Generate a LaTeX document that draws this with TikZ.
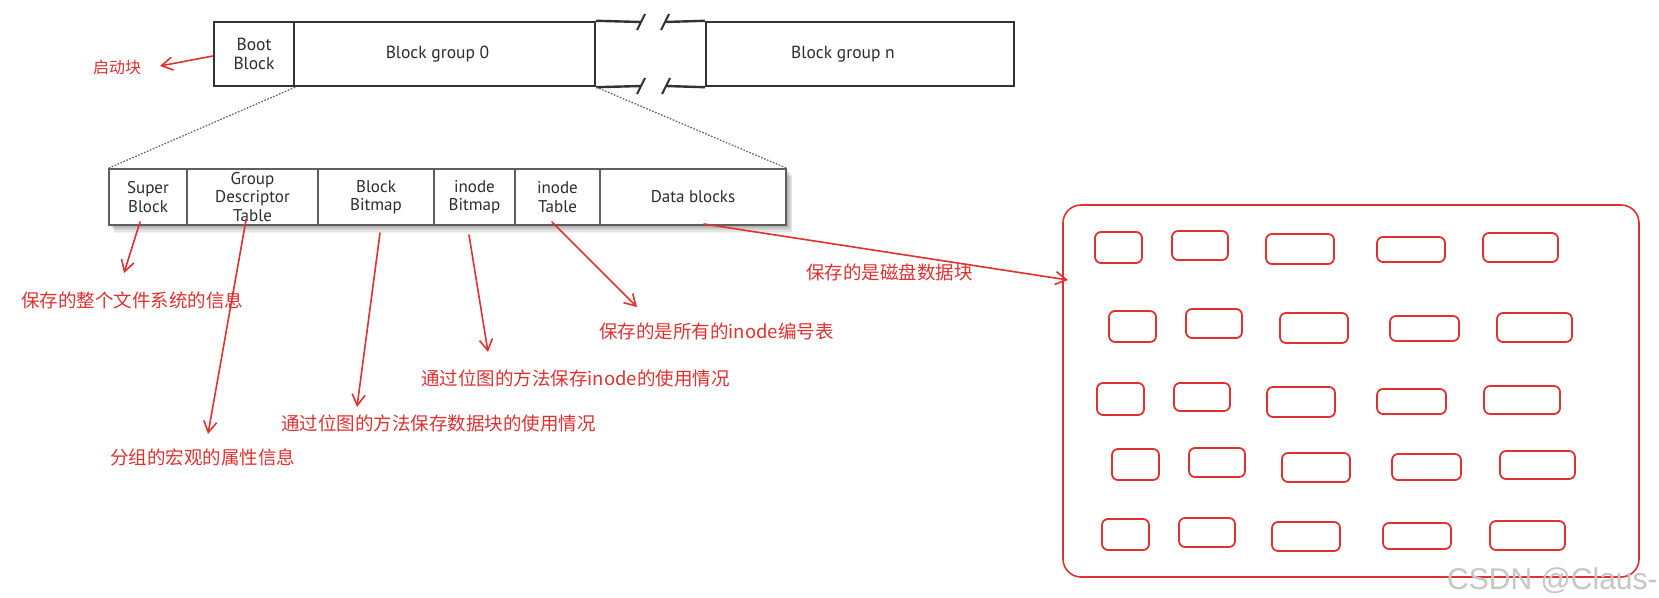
\documentclass[tikz,border=0pt]{standalone}
\usepackage{fontspec}
\setmainfont{PT Sans}
\newfontfamily\cjk{Noto Sans CJK SC}
\newfontfamily\wmfont{Liberation Sans}
\usetikzlibrary{arrows.meta,calc}
\definecolor{hred}{RGB}{224,49,49}
\definecolor{boxgray}{RGB}{50,50,50}
\definecolor{txtgray}{RGB}{45,45,45}
\definecolor{lowgray}{RGB}{95,95,95}
\begin{document}
\begin{tikzpicture}[x=1pt,y=-1pt,
 topcell/.style={draw=boxgray, line width=2.4pt, minimum height=64pt, inner sep=0pt,
   font=\fontsize{17.5}{19}\selectfont, text=txtgray, align=center},
 lowcell/.style={draw=lowgray, line width=1.5pt, minimum height=56pt, inner sep=0pt,
   font=\fontsize{17}{18.5}\selectfont, text=txtgray, align=center, fill=white},
 note/.style={text=hred, font=\cjk\fontsize{18.5}{20}\selectfont, inner sep=0pt, anchor=west},
 redarrow/.style={draw=hred, line width=1.6pt, line cap=round,
   -{Straight Barb[length=11pt,width=13pt,line width=1.6pt]}},
 cell/.style={draw=hred, line width=1.8pt, rounded corners=6pt},
 dotline/.style={draw=lowgray, line width=1.2pt, dash pattern=on 1.6pt off 1.6pt},
]
\useasboundingbox (0,0) rectangle (1659,597);
\fill[white] (0,0) rectangle (1659,597);

% ---- top bar ----
\node[topcell, minimum width=80pt] (boot) at (254,54) {Boot\\Block};
\node[topcell, minimum width=301pt] (bg0) at (444.5,54) {\hspace*{-14pt}Block group 0};
\node[topcell, minimum width=308pt] (bgn) at (860,54) {\hspace*{-34pt}Block group n};
% gap cell with break marks
\draw[boxgray, line width=2.4pt] (bg0.north east) -- (641,22) (665,22) -- (bgn.north west);
\draw[boxgray, line width=2.4pt] (bg0.south east) -- (641,86) (666,86) -- (bgn.south west);
\draw[boxgray, line width=2pt] (637,30) -- (645,14) (661,30) -- (669,14)
                                (637,94) -- (645,78) (662,94) -- (670,78);

% ---- lower bar: shadow ----
\foreach \s in {1,...,6} {
  \fill[black, opacity=0.055] ($(109,169)+(\s*0.9,\s*1.1)$) rectangle ($(786,225)+(\s*0.9+1,\s*1.1+1)$);
}
\node[lowcell, minimum width=78pt]  (sb)  at (148,197)   {Super\\Block};
\node[lowcell, minimum width=131pt] (gdt) at (252.5,197) {Group\\Descriptor\\Table};
\node[lowcell, minimum width=116pt] (bb)  at (376,197)   {Block\\Bitmap};
\node[lowcell, minimum width=81pt]  (ib)  at (474.5,197) {inode\\Bitmap};
\node[lowcell, minimum width=85pt]  (it)  at (557.5,197) {inode\\Table};
\node[lowcell, minimum width=186pt] (db)  at (693,197)   {Data blocks};

% dotted zoom lines
\draw[dotline] (boot.south east) -- (sb.north west);
\draw[dotline] (bg0.south east) -- (db.north east);

% ---- notes ----
\node[note, font=\cjk\fontsize{16}{18}\selectfont] (t0) at (93,67) {启动块};
\node[note] (t1) at (21,300) {保存的整个文件系统的信息};
\node[note] (t2) at (110,457) {分组的宏观的属性信息};
\node[note] (t3) at (281,423) {通过位图的方法保存数据块的使用情况};
\node[note] (t4) at (421,378) {通过位图的方法保存inode的使用情况};
\node[note] (t5) at (599,331) {保存的是所有的inode编号表};
\node[note] (t6) at (806,272) {保存的是磁盘数据块};

% ---- big data-block area ----
\node[draw=hred, line width=1.6pt, rounded corners=18pt, minimum width=576pt,
      minimum height=372pt, inner sep=0pt] (big) at (1351,391) {};
\foreach \a/\b/\c/\d in {
 1095/232/1142/263, 1172/231/1228/260, 1266/234/1334/264, 1377/237/1445/262, 1483/233/1558/262,
 1109/311/1156/342, 1186/309/1242/338, 1280/313/1348/343, 1390/316/1459/341, 1497/313/1572/342,
 1097/383/1144/415, 1174/383/1230/411, 1267/387/1335/417, 1377/389/1446/414, 1484/386/1560/414,
 1112/449/1159/480, 1189/448/1245/477, 1282/453/1350/482, 1392/454/1461/480, 1500/451/1575/479,
 1102/519/1149/550, 1179/518/1235/547, 1272/522/1340/551, 1383/523/1451/549, 1490/521/1565/550}
 { \draw[cell] (\a,\b) rectangle (\c,\d); }

% ---- arrows ----
\coordinate (a0s) at (213,56);  \coordinate (a0e) at (160,66);
\coordinate (a1s) at (140,222); \coordinate (a1e) at (124,273);
\coordinate (a2s) at (246,220); \coordinate (a2e) at (208,434);
\coordinate (a3s) at (380,233); \coordinate (a3e) at (357,407);
\coordinate (a4s) at (469,235); \coordinate (a4e) at (488,352);
\coordinate (a5s) at (552,222); \coordinate (a5e) at (637,307);
\coordinate (a6s) at (704,224); \coordinate (a6e) at (1068,280);
\draw[redarrow] (a0s) -- (a0e);
\draw[redarrow] (a1s) -- (a1e);
\draw[redarrow] (a2s) -- (a2e);
\draw[redarrow] (a3s) -- (a3e);
\draw[redarrow] (a4s) -- (a4e);
\draw[redarrow] (a5s) -- (a5e);
\draw[redarrow] (a6s) -- (a6e);

% watermark
\node[anchor=west, inner sep=0pt, text=gray!45, font=\wmfont\fontsize{30}{32}\selectfont] (wm) at (1447,581) {CSDN @Claus-};
\end{tikzpicture}
\end{document}
